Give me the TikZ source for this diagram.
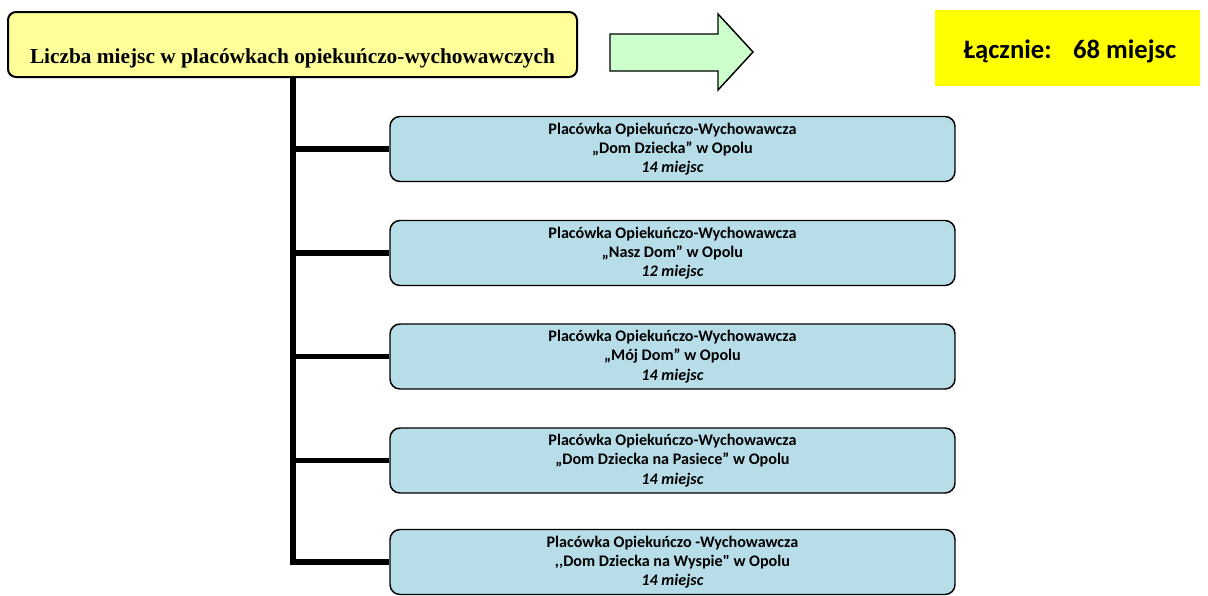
\documentclass[tikz,border=0pt]{standalone}
\usepackage{fontspec}
\setmainfont{Liberation Serif}
\newfontfamily\calfont{Carlito}
\usetikzlibrary{calc}
\definecolor{titlefill}{HTML}{FFFF99}
\definecolor{boxfill}{HTML}{B7DEE8}
\definecolor{arrowfill}{HTML}{CCFFCC}
\definecolor{totalfill}{HTML}{FFFF00}
\begin{document}
\begin{tikzpicture}[x=0.75pt,y=-0.75pt,
  titlebox/.style={draw=black,line width=1.5pt,fill=titlefill,rounded corners=6pt,
    minimum width=426.75pt,minimum height=48.75pt,inner sep=0pt},
  unitbox/.style={draw=black,line width=1.1pt,fill=boxfill,rounded corners=7.5pt,
    minimum width=423.75pt,minimum height=48.75pt,inner sep=0pt,align=center,
    font=\calfont\bfseries\fontsize{12.1}{14.4}\selectfont},
  totalbox/.style={fill=totalfill,minimum width=198.75pt,minimum height=57pt,inner sep=0pt},
  totaltext/.style={font=\calfont\bfseries\fontsize{20}{24}\selectfont,inner sep=0pt},
  trunk/.style={line width=3.8pt,line join=miter,line cap=butt},
  arrowshape/.style={draw=black,line width=1.1pt,fill=arrowfill,line join=miter}]
\useasboundingbox (0,0) rectangle (1208,596);

\node[titlebox] (title) at (292.5,44.5) {};
\node[font=\bfseries\fontsize{16}{19}\selectfont,anchor=base] (titletext) at (292.5,63)
  {Liczba miejsc w placówkach opiekuńczo-wychowawczych};

\draw[arrowshape] (610,34) -- (718,34) -- (718,14) -- (753,52) -- (718,90) -- (718,71) -- (610,71) -- cycle;

\node[totalbox] (total) at (1067.5,48) {};
\node[totaltext] (totallabel) at (1070,51) {Łącznie:\hspace{0.8em}68 miejsc};

\node[unitbox] (b1) at (672.5,149) {Placówka Opiekuńczo-Wychowawcza\\„Dom Dziecka” w Opolu\\\textit{14 miejsc}};
\node[unitbox] (b2) at (672.5,253) {Placówka Opiekuńczo-Wychowawcza\\„Nasz Dom” w Opolu\\\textit{12 miejsc}};
\node[unitbox] (b3) at (672.5,356.5) {Placówka Opiekuńczo-Wychowawcza\\„Mój Dom” w Opolu\\\textit{14 miejsc}};
\node[unitbox] (b4) at (672.5,460.5) {Placówka Opiekuńczo-Wychowawcza\\„Dom Dziecka na Pasiece” w Opolu\\\textit{14 miejsc}};
\node[unitbox] (b5) at (672.5,562) {Placówka Opiekuńczo -Wychowawcza\\,,Dom Dziecka na Wyspie" w Opolu\\\textit{14 miejsc}};

\coordinate (trunktop) at ($(title.south west)+(286,0)$);
\draw[trunk] (trunktop) |- (b5.west);
\foreach \b in {b1,b2,b3,b4}{
  \draw[trunk] (\b.west -| trunktop) -- (\b.west);
}
\end{tikzpicture}
\end{document}
